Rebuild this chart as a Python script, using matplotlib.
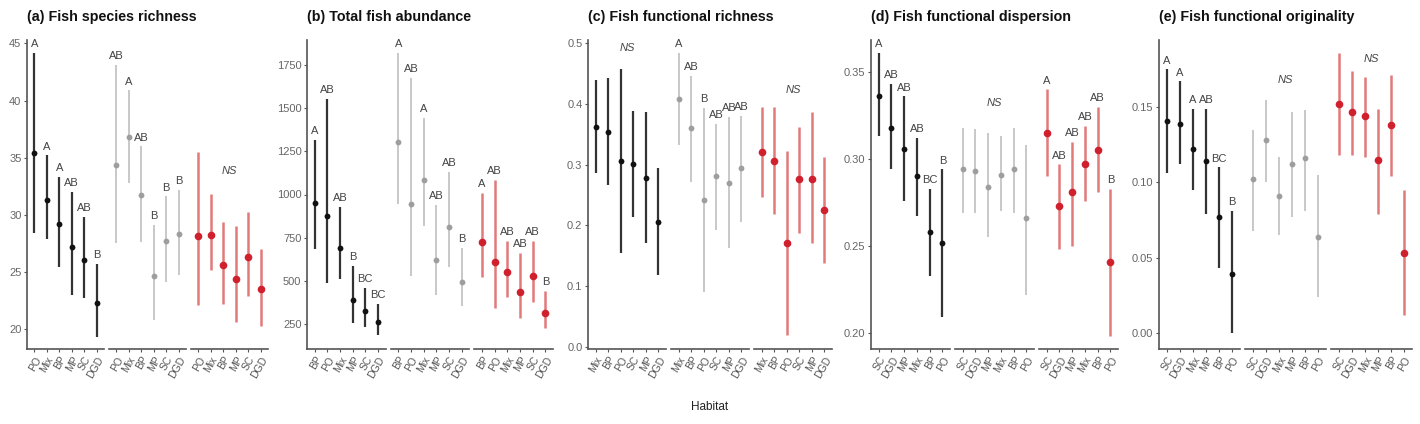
import matplotlib
matplotlib.use('Agg')
import matplotlib.pyplot as plt
import numpy as np

plt.rcParams['font.family'] = ['Liberation Sans', 'DejaVu Sans']

# three facets per panel: black, grey, red groups
colors_line = ['#333333', '#c8c8c8', '#e27a7a']
colors_pt = ['#111111', '#9e9e9e', '#d0202e']

titles = ['(a) Fish species richness', '(b) Total fish abundance',
          '(c) Fish functional richness', '(d) Fish functional dispersion',
          '(e) Fish functional originality']

# (a) species richness
a_order = ['PO', 'Mix', 'BP', 'MP', 'SC', 'DGD']
a_mean = [[35.4, 31.3, 29.2, 27.2, 26.0, 22.3],
          [34.4, 36.8, 31.7, 24.6, 27.7, 28.3],
          [28.1, 28.2, 25.6, 24.4, 26.3, 23.5]]
a_lo = [[28.4, 27.9, 25.4, 23.0, 22.7, 19.3],
        [27.5, 32.8, 27.6, 20.8, 24.1, 24.7],
        [22.1, 25.2, 22.2, 20.6, 22.9, 20.3]]
a_hi = [[44.2, 35.2, 33.3, 32.0, 29.8, 25.7],
        [43.1, 40.9, 36.0, 29.1, 31.6, 32.2],
        [35.5, 31.8, 29.4, 29.0, 30.2, 27.0]]
a_letters = [['A', 'A', 'A', 'AB', 'AB', 'B'],
             ['AB', 'A', 'AB', 'B', 'B', 'B'],
             None]
a_ns = [None, None, 33.8]

# (b) total abundance
b_order = ['BP', 'PO', 'Mix', 'MP', 'SC', 'DGD']
b_mean = [[950, 876, 690, 389, 325, 262],
          [1304, 945, 1084, 621, 812, 493],
          [725, 609, 551, 435, 528, 314]]
b_lo = [[684, 488, 511, 256, 233, 186],
        [944, 528, 818, 418, 580, 354],
        [522, 343, 406, 285, 378, 227]]
b_hi = [[1316, 1553, 928, 586, 459, 366],
        [1820, 1675, 1443, 940, 1130, 690],
        [1009, 1084, 731, 661, 731, 441]]
b_letters = [['A', 'AB', 'AB', 'B', 'BC', 'BC'],
             ['A', 'AB', 'A', 'AB', 'AB', 'B'],
             ['A', 'AB', 'AB', 'AB', 'AB', 'B']]
b_ns = [None, None, None]

# (c) functional richness
c_order = ['Mix', 'BP', 'PO', 'SC', 'MP', 'DGD']
c_mean = [[0.362, 0.354, 0.306, 0.301, 0.278, 0.206],
          [0.408, 0.360, 0.242, 0.281, 0.270, 0.295],
          [0.321, 0.306, 0.171, 0.276, 0.277, 0.225]]
c_lo = [[0.286, 0.266, 0.155, 0.214, 0.171, 0.118],
        [0.332, 0.272, 0.090, 0.192, 0.163, 0.206],
        [0.247, 0.219, 0.020, 0.187, 0.171, 0.138]]
c_hi = [[0.439, 0.442, 0.457, 0.388, 0.387, 0.294],
        [0.484, 0.446, 0.393, 0.367, 0.378, 0.380],
        [0.395, 0.395, 0.322, 0.362, 0.386, 0.313]]
c_letters = [None,
             ['A', 'AB', 'B', 'AB', 'AB', 'AB'],
             None]
c_ns = [0.492, None, 0.423]

# (d) functional dispersion
d_order = ['SC', 'DGD', 'MP', 'Mix', 'BP', 'PO']
d_mean = [[0.336, 0.318, 0.306, 0.290, 0.258, 0.252],
          [0.294, 0.293, 0.284, 0.291, 0.294, 0.266],
          [0.315, 0.273, 0.281, 0.297, 0.305, 0.241]]
d_lo = [[0.313, 0.294, 0.276, 0.267, 0.233, 0.209],
        [0.269, 0.269, 0.255, 0.270, 0.269, 0.222],
        [0.290, 0.248, 0.250, 0.276, 0.281, 0.198]]
d_hi = [[0.361, 0.343, 0.336, 0.312, 0.283, 0.294],
        [0.318, 0.317, 0.315, 0.313, 0.318, 0.308],
        [0.340, 0.297, 0.310, 0.319, 0.330, 0.283]]
d_letters = [['A', 'AB', 'AB', 'AB', 'BC', 'B'],
             None,
             ['A', 'AB', 'AB', 'AB', 'AB', 'B']]
d_ns = [None, 0.332, None]

# (e) functional originality
e_order = ['SC', 'DGD', 'Mix', 'MP', 'BP', 'PO']
e_mean = [[0.141, 0.139, 0.122, 0.114, 0.077, 0.039],
          [0.102, 0.128, 0.091, 0.112, 0.116, 0.064],
          [0.152, 0.147, 0.144, 0.115, 0.138, 0.053]]
e_lo = [[0.106, 0.112, 0.095, 0.079, 0.043, 0.000],
        [0.068, 0.100, 0.065, 0.077, 0.081, 0.024],
        [0.118, 0.118, 0.117, 0.079, 0.104, 0.012]]
e_hi = [[0.175, 0.167, 0.149, 0.149, 0.110, 0.081],
        [0.135, 0.155, 0.117, 0.147, 0.148, 0.105],
        [0.186, 0.174, 0.170, 0.149, 0.171, 0.095]]
e_letters = [['A', 'A', 'A', 'AB', 'BC', 'B'],
             None,
             None]
e_ns = [None, 0.168, 0.182]

panels = [
    (a_order, a_mean, a_lo, a_hi, a_letters, a_ns, (18.25, 45.3), np.arange(20, 46, 5), '%d'),
    (b_order, b_mean, b_lo, b_hi, b_letters, b_ns, (105, 1895), np.arange(250, 1751, 250), '%d'),
    (c_order, c_mean, c_lo, c_hi, c_letters, c_ns, (-0.0033, 0.505), np.arange(0, 0.51, 0.1), '%.1f'),
    (d_order, d_mean, d_lo, d_hi, d_letters, d_ns, (0.1908, 0.3684), [0.20, 0.25, 0.30, 0.35], '%.2f'),
    (e_order, e_mean, e_lo, e_hi, e_letters, e_ns, (-0.0106, 0.1945), [0.0, 0.05, 0.10, 0.15], '%.2f'),
]

W, H = 1420, 424
spine_left = [27, 307, 588, 871, 1159]
spine_right = [268, 553, 832, 1118, 1412]
top_px, bot_px = 40, 349
gap = 5

fig = plt.figure(figsize=(W / 100, H / 100), dpi=100)

for p, (order, mean, lo, hi, letters, ns, ylim, yticks, fmt) in enumerate(panels):
    x0, x1 = spine_left[p], spine_right[p]
    fw = (x1 - x0 - 2 * gap) / 3
    rng = ylim[1] - ylim[0]
    x = np.arange(1, 7)
    for g in range(3):
        left = x0 + g * (fw + gap)
        ax = fig.add_axes([left / W, 1 - bot_px / H, fw / W, (bot_px - top_px) / H])
        ax.set_xlim(0.4, 6.6)
        ax.set_ylim(*ylim)
        lw = [1.6, 1.4, 1.8][g]
        ax.vlines(x, lo[g], hi[g], color=colors_line[g], lw=lw, zorder=2)
        ms = 5.5 if g == 2 else 4.2
        ax.plot(x, mean[g], 'o', color=colors_pt[g], ms=ms, mec='none', zorder=3)
        if letters[g] is not None:
            for xi, top, lab in zip(x, hi[g], letters[g]):
                ax.text(xi, top + 0.012 * rng, lab, ha='center', va='bottom',
                        fontsize=8, color='#444444')
        if ns[g] is not None:
            ax.text(3.5, ns[g], 'NS', ha='center', va='center', fontsize=8,
                    style='italic', color='#444444')
        ax.set_xticks(x)
        ax.set_xticklabels(order, rotation=60, ha='right', rotation_mode='anchor',
                           fontsize=7.5, color='#555555')
        for s in ['top', 'right']:
            ax.spines[s].set_visible(False)
        ax.spines['bottom'].set_color('#555555')
        ax.spines['bottom'].set_linewidth(1.2)
        ax.tick_params(axis='x', length=2, color='#555555', pad=2)
        if g == 0:
            ax.spines['left'].set_color('#555555')
            ax.spines['left'].set_linewidth(1.2)
            ax.set_yticks(yticks)
            ax.set_yticklabels([fmt % v for v in yticks], fontsize=8, color='#666666')
            ax.tick_params(axis='y', length=2, color='#555555', pad=2)
        else:
            ax.spines['left'].set_visible(False)
            ax.set_yticks([])
    fig.text(x0 / W, 1 - 17 / H, titles[p], ha='left', va='center',
             fontsize=10.3, fontweight='bold', color='#111111')

fig.text(710 / W, 1 - 407 / H, 'Habitat', ha='center', va='center',
         fontsize=8.5, color='#222222')

fig.savefig('out.png', dpi=100)
